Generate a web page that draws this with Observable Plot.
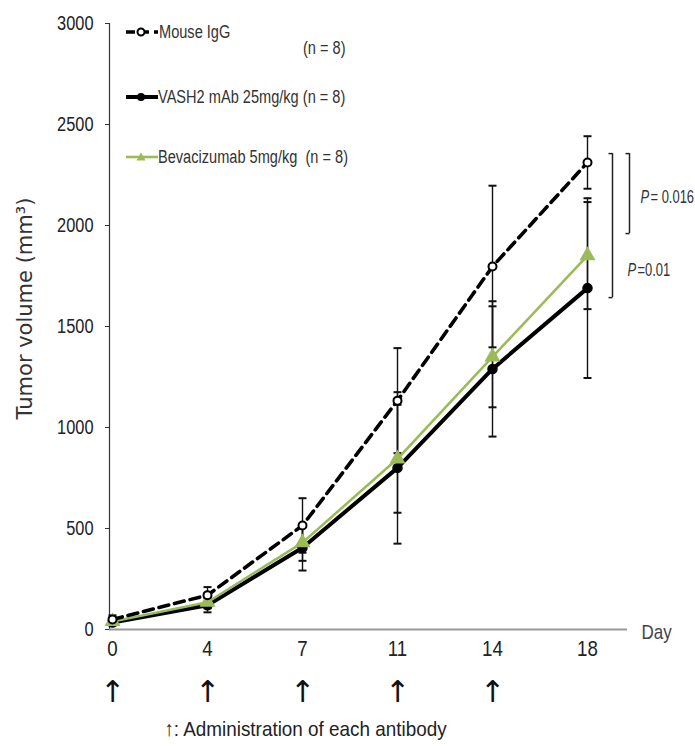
<!DOCTYPE html>
<html>
<head>
<meta charset="utf-8">
<script src="https://cdn.jsdelivr.net/npm/d3@7"></script>
<script src="https://cdn.jsdelivr.net/npm/@observablehq/plot@0.6"></script>
<style>
  html, body { margin: 0; padding: 0; background: white; }
  #wrap { position: relative; width: 695px; height: 746px; }
  .lg { position: absolute; font-family: "Liberation Sans", Arial, sans-serif; font-size: 18px; color: #333; transform: translateY(-50%) scaleX(0.81); transform-origin: left center; white-space: nowrap; line-height: 1; }
  .sw { position: absolute; transform: translateY(-50%); }
</style>
</head>
<body>
<div id="wrap"></div>
<script>
// ---- data ----
const days = [0, 4, 7, 11, 14, 18];
const adminDays = [0, 4, 7, 11, 14];
const yTicks = [0, 500, 1000, 1500, 2000, 2500, 3000];

const seriesNames = ["Mouse IgG", "VASH2 mAb 25mg/kg", "Bevacizumab 5mg/kg"];
const mouseMean = [50, 170, 515, 1133, 1797, 2312];
const mouseSD   = [20, 40, 135, 260, 400, 130];
const vashMean  = [35, 120, 405, 800, 1290, 1690];
const vashSD    = [15, 35, 113, 375, 335, 445];
const bevMean   = [40, 135, 430, 845, 1350, 1851];
const bevSD     = [15, 30, 90, 267, 250, 265];

// significance brackets at day 18 (value range covered)
const bracketLong  = {top: 2356, bottom: 1643, label: "=0.01", labelAt: 1777};
const bracketShort = {top: 2356, bottom: 1960, label: "= 0.016", labelAt: 2140};
const captionText = "↑: Administration of each antibody";

const GREEN = "#9bbb59";

const seriesData = [
  {name: seriesNames[0], mean: mouseMean, sd: mouseSD},
  {name: seriesNames[1], mean: vashMean, sd: vashSD},
  {name: seriesNames[2], mean: bevMean, sd: bevSD}
];
const rows = seriesData.flatMap(s => days.map((d, i) => ({
  series: s.name, day: d, mean: s.mean[i], lo: s.mean[i] - s.sd[i], hi: s.mean[i] + s.sd[i]
})));
const bySeries = n => rows.filter(r => r.series === n);

const capSym = {draw(ctx, size) { const r = Math.sqrt(size / Math.PI); ctx.moveTo(-r, 0); ctx.lineTo(r, 0); }};
const serifSym = {draw(ctx, size) { const r = Math.sqrt(size / Math.PI); ctx.moveTo(-r, 0); ctx.lineTo(0, 0); }};

const sans = "Liberation Sans, Arial, sans-serif";

const chart = Plot.plot({
  width: 695,
  height: 746,
  marginLeft: 109,
  marginRight: 68,
  marginTop: 23,
  marginBottom: 117,
  style: {fontFamily: sans, background: "white", color: "#222"},
  x: {type: "point", domain: days, range: [112, 587], padding: 0},
  y: {domain: [0, 3000]},
  marks: [
    Plot.frame({anchor: "left", stroke: "#333", strokeWidth: 1.2}),
    Plot.ruleY([0], {stroke: "#999", strokeWidth: 2}),
    Plot.axisY(yTicks, {tickSize: 4, tickPadding: 12, fontSize: 21, label: null, tickFormat: d => String(d), stroke: "#333", fill: "#222"}),
    Plot.axisX(days, {tickSize: 0, tickPadding: 11, fontSize: 22, label: null, tickFormat: d => String(d), fill: "#222"}),
    Plot.text(["Tumor volume (mm³)"], {frameAnchor: "left", textAnchor: "middle", rotate: -90, dx: -84, dy: -18, fontSize: 21, fontFamily: "DejaVu Sans, Verdana, sans-serif", fill: "#333"}),
    Plot.text(["Day"], {frameAnchor: "bottom-right", textAnchor: "start", dx: 14, dy: 9, fontSize: 20, fill: "#444"}),
    Plot.text(adminDays, {x: d => d, y: () => 0, text: () => "↑", dy: 63, fontSize: 30, fontFamily: "DejaVu Sans, sans-serif", fill: "#111"}),
    Plot.text([captionText], {frameAnchor: "bottom", dx: -63, dy: 106, fontSize: 21, fill: "#222"}),

    // error bars
    Plot.ruleX(rows, {x: "day", y1: "lo", y2: "hi", stroke: "#111", strokeWidth: 1.4}),
    Plot.dot(rows, {x: "day", y: "hi", symbol: capSym, r: 4, stroke: "#111", fill: "none", strokeWidth: 2}),
    Plot.dot(rows, {x: "day", y: "lo", symbol: capSym, r: 4, stroke: "#111", fill: "none", strokeWidth: 2}),

    // lines
    Plot.line(bySeries(seriesNames[1]), {x: "day", y: "mean", stroke: "#000", strokeWidth: 4}),
    Plot.line(bySeries(seriesNames[2]), {x: "day", y: "mean", stroke: GREEN, strokeWidth: 2.6}),
    Plot.line(bySeries(seriesNames[0]), {x: "day", y: "mean", stroke: "#000", strokeWidth: 3.6, strokeDasharray: "10,6"}),

    // markers
    Plot.dot(bySeries(seriesNames[1]), {x: "day", y: "mean", r: 4.5, fill: "#000", stroke: "#000"}),
    Plot.dot(bySeries(seriesNames[2]), {x: "day", y: "mean", symbol: "triangle", r: 5, fill: GREEN, stroke: GREEN}),
    Plot.dot(bySeries(seriesNames[0]), {x: "day", y: "mean", r: 4, fill: "white", stroke: "#000", strokeWidth: 2}),

    // significance brackets
    Plot.ruleX([bracketLong], {x: () => 18, y1: "bottom", y2: "top", dx: 25, stroke: "#222", strokeWidth: 1.5}),
    Plot.dot([bracketLong.top, bracketLong.bottom], {x: () => 18, y: d => d, dx: 25, symbol: serifSym, r: 4, stroke: "#222", fill: "none", strokeWidth: 1.5}),
    Plot.ruleX([bracketShort], {x: () => 18, y1: "bottom", y2: "top", dx: 42, stroke: "#222", strokeWidth: 1.5}),
    Plot.dot([bracketShort.top, bracketShort.bottom], {x: () => 18, y: d => d, dx: 42, symbol: serifSym, r: 4, stroke: "#222", fill: "none", strokeWidth: 1.5}),
    Plot.text([bracketShort], {x: () => 18, y: "labelAt", text: () => "P", dx: 53, textAnchor: "start", fontStyle: "italic", fontSize: 18, fill: "#333"}),
    Plot.text([bracketShort], {x: () => 18, y: "labelAt", text: "label", dx: 63, textAnchor: "start", fontSize: 18, fill: "#333"}),
    Plot.text([bracketLong], {x: () => 18, y: "labelAt", text: () => "P", dx: 40, textAnchor: "start", fontStyle: "italic", fontSize: 18, fill: "#333"}),
    Plot.text([bracketLong], {x: () => 18, y: "labelAt", text: "label", dx: 50, textAnchor: "start", fontSize: 18, fill: "#333"})
  ]
});

// condense text horizontally (narrow font look of the original)
const squeezeGroups = {"y-axis tick label": 0.78, "x-axis tick label": 0.85};
const squeezeTexts = new Map([["Day", 0.85], [captionText, 0.9], ["P", 0.72], [bracketShort.label, 0.72], [bracketLong.label, 0.72]]);
const squeezeEl = (t, s) => { const T = t.getAttribute("transform") || ""; t.setAttribute("transform", `${T} scale(${s},1)`); };
for (const [label, s] of Object.entries(squeezeGroups)) {
  chart.querySelectorAll(`g[aria-label="${label}"] text`).forEach(t => squeezeEl(t, s));
}
chart.querySelectorAll(`g[aria-label="text"] text`).forEach(t => {
  const s = squeezeTexts.get(t.textContent);
  if (s) squeezeEl(t, s);
});

const wrap = document.getElementById("wrap");
wrap.appendChild(chart);

// legend overlay
const legendHTML = `
<svg class="sw" style="left:125px;top:32px" width="34" height="12">
  <line x1="1" x2="33" y1="6" y2="6" stroke="#000" stroke-width="3.6" stroke-dasharray="9,5"/>
  <circle cx="16" cy="6" r="3.5" fill="white" stroke="#000" stroke-width="2"/>
</svg>
<span class="lg" style="left:159px;top:32px">${seriesNames[0]}</span>
<span class="lg" style="left:303px;top:48px">(n = 8)</span>
<svg class="sw" style="left:125px;top:97px" width="34" height="12">
  <line x1="1" x2="33" y1="6" y2="6" stroke="#000" stroke-width="4"/>
  <circle cx="16" cy="6" r="4" fill="#000"/>
</svg>
<span class="lg" style="left:158px;top:97px">${seriesNames[1]} (n = 8)</span>
<svg class="sw" style="left:125px;top:157px" width="34" height="12">
  <line x1="1" x2="33" y1="6" y2="6" stroke="${GREEN}" stroke-width="2.6"/>
  <path d="M16,1.5 L20.5,9.5 L11.5,9.5 Z" fill="${GREEN}"/>
</svg>
<span class="lg" style="left:158px;top:157px">${seriesNames[2]}&nbsp; (n = 8)</span>
`;
const lg = document.createElement("div");
lg.innerHTML = legendHTML;
while (lg.firstElementChild) wrap.appendChild(lg.firstElementChild);
</script>
</body>
</html>
